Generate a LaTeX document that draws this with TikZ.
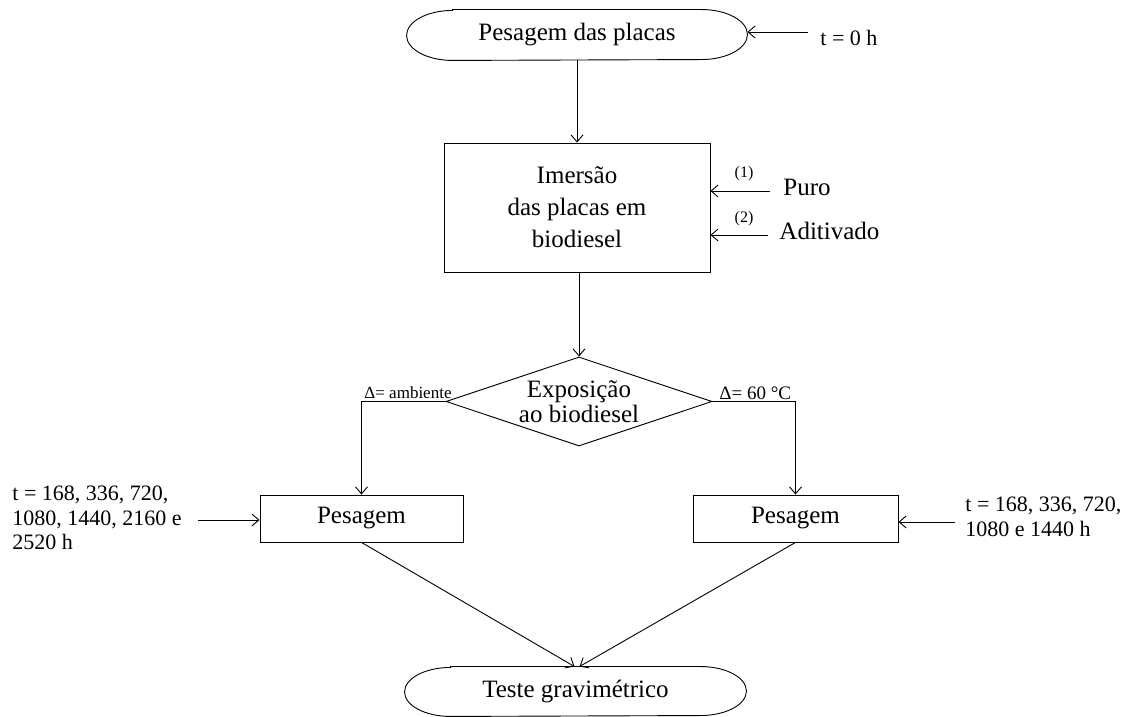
\documentclass[tikz,border=0pt]{standalone}
\usepackage{fontspec}
\setmainfont{Liberation Serif}
\usetikzlibrary{arrows.meta,shapes.geometric}
\begin{document}
\begin{tikzpicture}[x=1pt,y=1pt,
  line width=0.9pt,
  arr/.style={-{Straight Barb[length=7pt,width=12pt,line width=0.9pt]}},
  big/.style={font=\fontsize{25}{32}\selectfont},
  mid/.style={font=\fontsize{22}{24.5}\selectfont},
  tiny/.style={font=\fontsize{16}{18}\selectfont},
  box/.style={draw, big, align=center, inner sep=0pt},
  term/.style={big, inner sep=0pt, minimum height=50pt},
  dlab/.style={font=\fontsize{17}{20}\selectfont, inner sep=0pt},
  note/.style={mid, align=left, inner sep=0pt},
]
\useasboundingbox (0,0) rectangle (1136,717);

% top terminal
\node[term, minimum width=340pt] (top) at (577,682) {Pesagem das placas};
\draw ([xshift=46pt]top.north west) -- ([xshift=-46pt]top.north east)
  arc[start angle=90, end angle=-90, x radius=46pt, y radius=25pt]
  -- ([xshift=46pt]top.south west)
  arc[start angle=270, end angle=90, x radius=46pt, y radius=25pt] -- cycle;

% immersion box
\node[box, minimum width=266pt, minimum height=129pt] (imm) at (577,509.5)
  {Imersão\\das placas em\\biodiesel};

% diamond
\node[diamond, draw, inner sep=0pt, minimum width=266pt, minimum height=89pt,
  label={[font=\fontsize{25}{25}\selectfont, align=center, inner sep=0pt]center:Exposição\\ao biodiesel}]
  (dia) at (579,315.5) {};

% weighing boxes
\node[box, minimum width=203pt, minimum height=47pt] (lbox) at (361.5,198.5) {Pesagem};
\node[box, minimum width=205pt, minimum height=47pt] (rbox) at (795.5,198.5) {Pesagem};

% bottom terminal
\node[term, minimum width=341pt, minimum height=49pt] (bot) at (575.5,25.5) {Teste gravimétrico};
\draw ([xshift=46pt]bot.north west) -- ([xshift=-46pt]bot.north east)
  arc[start angle=90, end angle=-90, x radius=46pt, y radius=24.5pt]
  -- ([xshift=46pt]bot.south west)
  arc[start angle=270, end angle=90, x radius=46pt, y radius=24.5pt] -- cycle;

% side texts
\node[mid, anchor=base west, inner sep=0pt] (t0) at (820,671) {t = 0 h};
\coordinate (t0free) at (808,685);
\draw[arr] (t0free) -- (t0free -| top.east);

\node[big, anchor=base west, inner sep=0pt] (puro) at (783,521) {Puro};
\node[big, anchor=base west, inner sep=0pt] (adit) at (779,477) {Aditivado};
\node[tiny, inner sep=0pt] (n1) at (744,543) {(1)};
\node[tiny, inner sep=0pt] (n2) at (744,498) {(2)};
\coordinate (pfree) at (770,526);
\coordinate (afree) at (768,482);
\draw[arr] (pfree) -- (pfree -| imm.east);
\draw[arr] (afree) -- (afree -| imm.east);

\node[dlab, anchor=base east] (la) at (452,318) {Δ= ambiente};
\node[font=\fontsize{19}{22}\selectfont, inner sep=0pt, anchor=base west] (ra) at (719,317) {Δ= 60 °C};

\node[note, anchor=west] (ltxt) at (12,199) {t = 168, 336, 720,\\1080, 1440, 2160 e\\2520 h};
\node[note, anchor=west] (rtxt) at (965,200) {t = 168, 336, 720,\\1080 e 1440 h};
\coordinate (lfree) at (198,197);
\coordinate (rfree) at (955,195);
\draw[arr] (lfree) -- (lfree -| lbox.west);
\draw[arr] (rfree) -- (rfree -| rbox.east);

% main flow
\draw[arr] (top.south) -- (imm.north);
\draw[arr] (imm.south -| dia.north) -- (dia.north);
\draw[arr] (dia.west) -| (lbox.north);
\draw[arr] (dia.east) -| (rbox.north);
\draw[arr] (lbox.south) -- ([xshift=-1pt]bot.north);
\draw[arr] (rbox.south) -- ([xshift=4pt]bot.north);
\end{tikzpicture}
\end{document}
